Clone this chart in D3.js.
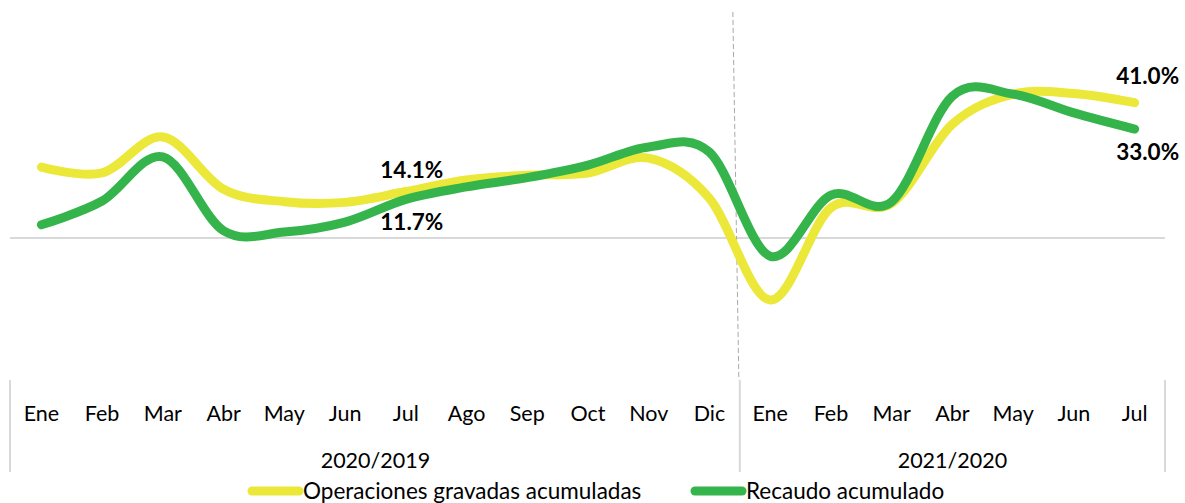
<!DOCTYPE html>
<html>
<head>
<meta charset="utf-8">
<script src="https://cdn.jsdelivr.net/npm/d3@7/dist/d3.min.js"></script>
<style>
  html, body { margin: 0; padding: 0; background: #fff; }
  svg { display: block; font-family: Lato, "Liberation Sans", sans-serif; }
</style>
</head>
<body>
<svg id="chart" width="1185" height="503"></svg>
<script>
// Month categories for each comparison period
const months2020 = ["Ene","Feb","Mar","Abr","May","Jun","Jul","Ago","Sep","Oct","Nov","Dic"];
const months2021 = ["Ene","Feb","Mar","Abr","May","Jun","Jul"];
const periodLabels = ["2020/2019", "2021/2020"];

// Cumulative year-over-year growth (%)
const operaciones = [21.5, 19.7, 30.6, 14.8, 11.0, 10.8, 14.1, 17.6, 19.0, 19.7, 24.2, 12.0,
                     -18.8, 9.2, 10.5, 34.5, 43.6, 43.8, 41.0];
const recaudo     = [4.0, 11.2, 24.6, 2.2, 1.8, 4.8, 11.7, 15.5, 18.3, 22.1, 27.6, 26.0,
                     -5.5, 13.0, 11.0, 43.0, 43.6, 37.9, 33.0];

const seriesNames = ["Operaciones gravadas acumuladas", "Recaudo acumulado"];
const seriesColors = ["#EBE83A", "#35B44C"];

// Points that carry a value label (index into the series)
const labelledIdx = [6, 18];

const svg = d3.select("#chart");

const categories = months2020.map((m, i) => ({ key: "a" + i, month: m, period: 0 }))
  .concat(months2021.map((m, i) => ({ key: "b" + i, month: m, period: 1 })));

const x = d3.scaleBand()
  .domain(categories.map(d => d.key))
  .range([11, 1165])
  .padding(0);
const cx = k => x(k) + x.bandwidth() / 2;

const y = d3.scaleLinear().domain([-40, 70]).range([370, 7]);

// zero line
svg.append("line")
  .attr("x1", 10).attr("x2", 1165)
  .attr("y1", y(0)).attr("y2", y(0))
  .attr("stroke", "#D9D9D9").attr("stroke-width", 2);

// boundary between the two periods
const splitX = x(categories[months2020.length].key);
svg.append("line")
  .attr("x1", splitX - 7).attr("y1", 12)
  .attr("x2", splitX - 1).attr("y2", 380)
  .attr("stroke", "#A9A9A9").attr("stroke-width", 1)
  .attr("stroke-dasharray", "5,3");

// category axis frame lines
const axisTop = 380, axisBottom = 472;
[x.range()[0] - 1, splitX, x.range()[1]].forEach(xx => {
  svg.append("line")
    .attr("x1", xx).attr("x2", xx)
    .attr("y1", axisTop).attr("y2", axisBottom)
    .attr("stroke", "#D9D9D9").attr("stroke-width", 2);
});

// month labels
svg.append("g").selectAll("text")
  .data(categories)
  .join("text")
  .attr("x", d => cx(d.key))
  .attr("y", 421)
  .attr("text-anchor", "middle")
  .attr("font-size", 21.5)
  .attr("fill", "#000")
  .text(d => d.month);

// period labels
periodLabels.forEach((lab, p) => {
  const cats = categories.filter(d => d.period === p);
  const x0 = x(cats[0].key), x1 = x(cats[cats.length - 1].key) + x.bandwidth();
  svg.append("text")
    .attr("x", (x0 + x1) / 2)
    .attr("y", 468)
    .attr("text-anchor", "middle")
    .attr("font-size", 21.5)
    .attr("fill", "#000")
    .text(lab);
});

// smoothed series lines
const line = d3.line()
  .x((d, i) => cx(categories[i].key))
  .y(d => y(d))
  .curve(d3.curveCardinal.tension(0));

[operaciones, recaudo].forEach((vals, s) => {
  svg.append("path")
    .datum(vals)
    .attr("d", line)
    .attr("fill", "none")
    .attr("stroke", seriesColors[s])
    .attr("stroke-width", 9)
    .attr("stroke-linecap", "round")
    .attr("stroke-linejoin", "round");
});

// value labels: upper series above, lower series below
const labelGroup = svg.append("g")
  .attr("font-size", 22.5)
  .attr("font-weight", "bold")
  .attr("fill", "#000")
  .attr("text-anchor", "middle");
labelledIdx.forEach(i => {
  const k = categories[i].key;
  const last = i === categories.length - 1;
  const shift = last ? 13 : 6;
  labelGroup.append("text")
    .attr("x", cx(k) + shift)
    .attr("y", y(operaciones[i]) - (last ? 19 : 13))
    .text(operaciones[i].toFixed(1) + "%");
  labelGroup.append("text")
    .attr("x", cx(k) + shift)
    .attr("y", y(recaudo[i]) + 31)
    .text(recaudo[i].toFixed(1) + "%");
});

// legend
const legendItems = [
  { x: 248, name: seriesNames[0], color: seriesColors[0] },
  { x: 691, name: seriesNames[1], color: seriesColors[1] }
];
legendItems.forEach(it => {
  svg.append("line")
    .attr("x1", it.x + 4).attr("x2", it.x + 51)
    .attr("y1", 491).attr("y2", 491)
    .attr("stroke", it.color).attr("stroke-width", 9)
    .attr("stroke-linecap", "round");
  svg.append("text")
    .attr("x", it.x + 55)
    .attr("y", 499)
    .attr("font-size", 22.5)
    .attr("fill", "#000")
    .text(it.name);
});
</script>
</body>
</html>
